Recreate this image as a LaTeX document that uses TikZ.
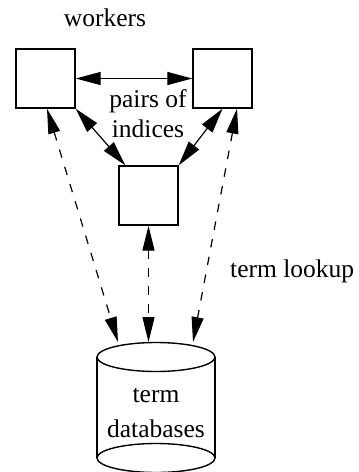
\documentclass[tikz,border=0pt]{standalone}
\usepackage{fontspec}
\setmainfont{Liberation Serif}
\usetikzlibrary{arrows.meta}
\begin{document}
\begin{tikzpicture}[x=1pt,y=-1pt,
  box/.style={draw,line width=1.4pt,minimum size=59pt,inner sep=0pt},
  lbl/.style={font=\fontsize{25.5}{30}\selectfont,inner sep=0pt,anchor=base},
  tip/.style={Triangle[length=25pt,width=13pt]},
  link/.style={line width=1.2pt,{Triangle[length=25pt,width=13pt]}-{Triangle[length=25pt,width=13pt]}},
  lookup/.style={line width=1.2pt,dash pattern=on 8.5pt off 9.5pt,{Triangle[length=25pt,width=12pt]}-{Triangle[length=25pt,width=12pt]}}]
\useasboundingbox (0,0) rectangle (359,472);

% worker boxes
\node[box] (w1) at (45.5,78.5) {};
\node[box] (w2) at (222.5,78.5) {};
\node[box] (w3) at (148.5,195.5) {};

% labels
\node[lbl] (wl) at (105,26.5) {workers};
\node[lbl] (p1) at (148,107) {pairs of};
\node[lbl] (p2) at (148,137) {indices};
\node[lbl,anchor=base west] (tl) at (230,277) {term lookup};

% term database cylinder
\draw[line width=1.4pt] (97,357) -- (97,458) (215,357) -- (215,458);
\draw[line width=1.4pt] (156,357) ellipse [x radius=59, y radius=14.5];
\draw[line width=1.4pt] (156,458) ellipse [x radius=59, y radius=14.5];
\node[lbl] (d1) at (156,402) {term};
\node[lbl] (d2) at (156,437) {databases};
\coordinate (dbL) at (118,342);
\coordinate (dbM) at (148.5,342);
\coordinate (dbR) at (193,342);

% index exchange between workers
\draw[link] (w1) -- (w2);
\draw[link] (w1.south east) -- ([xshift=7pt]w3.north west);
\draw[link] (w2.south) -- (w3.north east);

% term lookups
\draw[lookup] ([xshift=1.5pt]w1.south) -- (dbL);
\draw[lookup] (w3.south) -- (dbM);
\draw[lookup] ([xshift=14.5pt]w2.south) -- (dbR);
\end{tikzpicture}
\end{document}
